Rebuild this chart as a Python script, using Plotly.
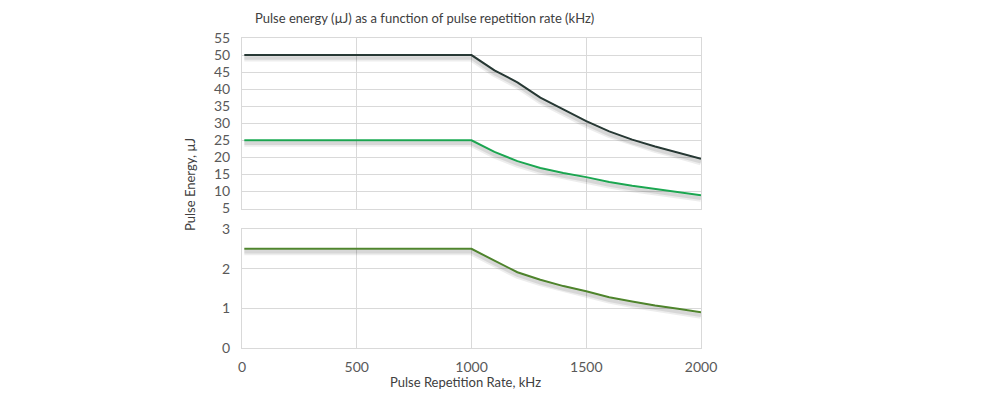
import plotly.graph_objects as go

# Data
rate_khz = [10, 100, 200, 300, 400, 500, 600, 700, 800, 900, 1000,
            1100, 1200, 1300, 1400, 1500, 1600, 1700, 1800, 1900, 2000]
energy_high = [50, 50, 50, 50, 50, 50, 50, 50, 50, 50, 50,
               45.5, 42.0, 37.5, 34.0, 30.6, 27.6, 25.2, 23.2, 21.5, 19.6]
energy_mid = [25, 25, 25, 25, 25, 25, 25, 25, 25, 25, 25,
              21.6, 18.9, 16.9, 15.4, 14.2, 12.8, 11.7, 10.7, 9.8, 8.9]
energy_low = [2.5, 2.5, 2.5, 2.5, 2.5, 2.5, 2.5, 2.5, 2.5, 2.5, 2.5,
              2.2, 1.91, 1.72, 1.56, 1.43, 1.28, 1.17, 1.07, 0.99, 0.9]

top_ticks = [5, 10, 15, 20, 25, 30, 35, 40, 45, 50, 55]
bottom_ticks = [0, 1, 2, 3]
x_ticks = [0, 500, 1000, 1500, 2000]

C_HIGH = "#2a3d38"
C_MID = "#1fb157"
C_LOW = "#548d30"
GRID = "#d9d9d9"
TICKC = "#595959"
FONT = "Lato, 'Open Sans', sans-serif"

fig = go.Figure()

# shadows (drawn on slightly shifted overlay axes)
for ys, ax_x, ax_y in [(energy_high, "x", "y3"), (energy_mid, "x", "y3"), (energy_low, "x2", "y4")]:
    fig.add_trace(go.Scatter(x=rate_khz, y=ys, xaxis=ax_x, yaxis=ax_y, mode="lines",
                             line=dict(color="rgba(0,0,0,0.07)", width=7),
                             hoverinfo="skip", showlegend=False))
    fig.add_trace(go.Scatter(x=rate_khz, y=ys, xaxis=ax_x, yaxis=ax_y, mode="lines",
                             line=dict(color="rgba(0,0,0,0.09)", width=3.5),
                             hoverinfo="skip", showlegend=False))

fig.add_trace(go.Scatter(x=rate_khz, y=energy_high, xaxis="x", yaxis="y", mode="lines",
                         line=dict(color=C_HIGH, width=2), showlegend=False))
fig.add_trace(go.Scatter(x=rate_khz, y=energy_mid, xaxis="x", yaxis="y", mode="lines",
                         line=dict(color=C_MID, width=2), showlegend=False))
fig.add_trace(go.Scatter(x=rate_khz, y=energy_low, xaxis="x2", yaxis="y2", mode="lines",
                         line=dict(color=C_LOW, width=2), showlegend=False))

axis_common = dict(showgrid=True, gridcolor=GRID, gridwidth=1, showline=True,
                   linecolor=GRID, linewidth=1, mirror=True, zeroline=False,
                   automargin=False,
                   tickfont=dict(family=FONT, size=14, color=TICKC), ticks="")

top_dom = [0.45, 1.0]
bot_dom = [0.0, 0.384]

fig.update_layout(
    width=1000, height=396,
    margin=dict(l=234, r=307, t=30, b=56),
    paper_bgcolor="white", plot_bgcolor="white",
    xaxis=dict(domain=[0, 1], range=[0, 2000], tickvals=x_ticks, showticklabels=False,
               anchor="y", **axis_common),
    xaxis2=dict(domain=[0, 1], range=[0, 2000], tickvals=x_ticks, anchor="y2",
                ticklabelstandoff=6, **axis_common),
    yaxis=dict(domain=top_dom, range=[5, 55], tickvals=top_ticks, anchor="x",
               ticklabelstandoff=8, **axis_common),
    yaxis2=dict(domain=bot_dom, range=[0, 3], tickvals=bottom_ticks, anchor="x2",
                ticklabelstandoff=8, **axis_common),
    yaxis3=dict(overlaying="y", range=[5.9, 55.9], visible=False, showgrid=False,
                automargin=False),
    yaxis4=dict(overlaying="y2", range=[0.075, 3.075], visible=False, showgrid=False,
                automargin=False),
    annotations=[
        dict(text="Pulse energy (µJ) as a function of pulse repetition rate (kHz)",
             xref="paper", yref="paper", x=(424 - 242) / 459, y=1.0, yshift=20,
             xanchor="center", yanchor="middle", showarrow=False,
             font=dict(family=FONT, size=13, color="#404040")),
        dict(text="Pulse Energy, µJ", xref="paper", yref="paper",
             x=0, xshift=-52, y=(348 - 185) / 310, textangle=-90,
             xanchor="center", yanchor="middle", showarrow=False,
             font=dict(family=FONT, size=13, color="#404040")),
        dict(text="Pulse Repetition Rate, kHz", xref="paper", yref="paper",
             x=(465 - 242) / 459, y=0, yshift=-34, xanchor="center", yanchor="middle",
             showarrow=False, font=dict(family=FONT, size=13, color="#404040")),
    ],
)

fig.write_html("out.html")
